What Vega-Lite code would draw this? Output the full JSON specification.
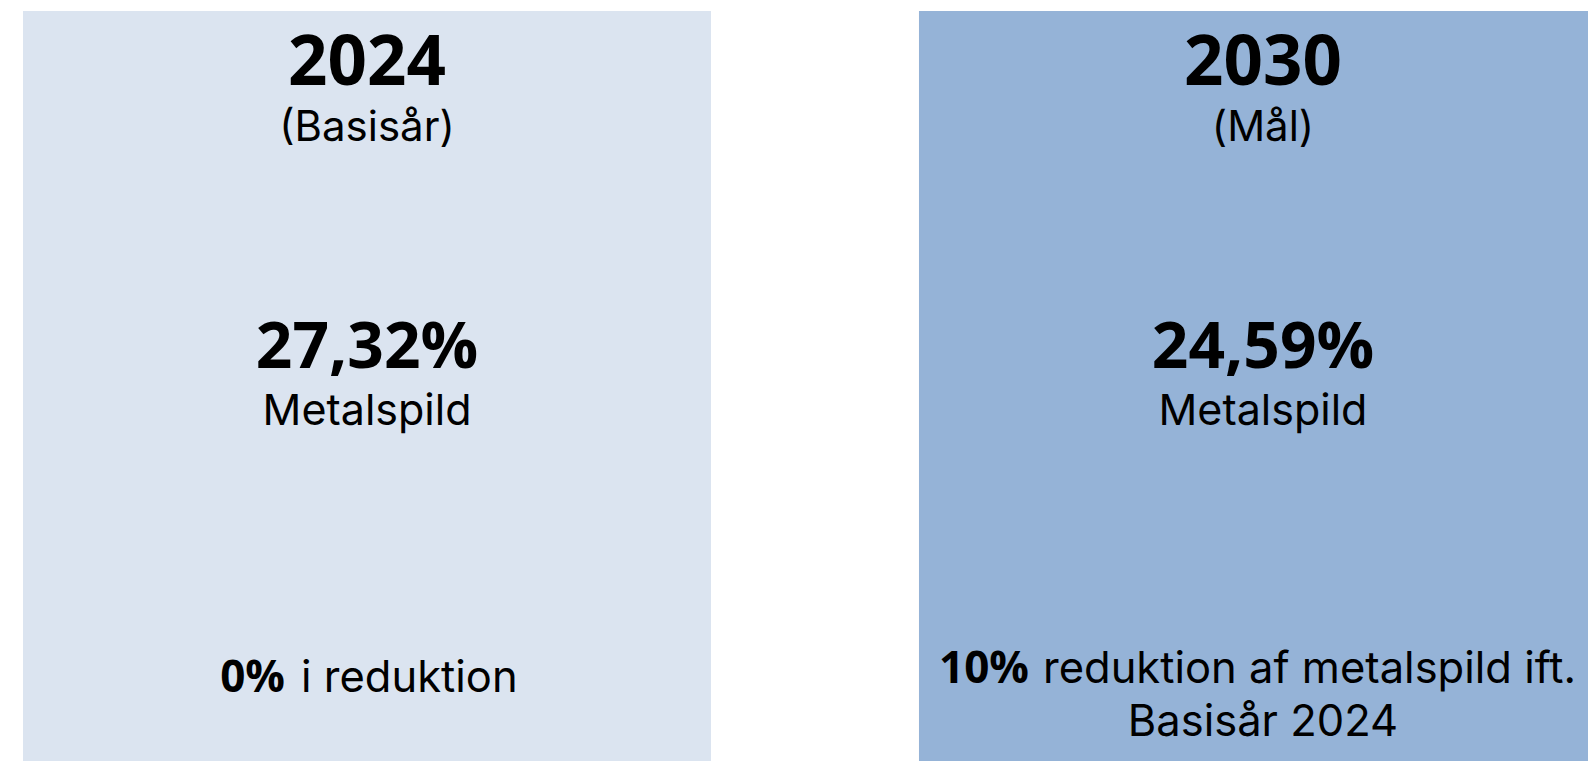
{
  "$schema": "https://vega.github.io/schema/vega-lite/v6.json",
  "autosize": "none",
  "width": 1565,
  "height": 750,
  "padding": {"left": 23, "top": 11, "right": 0, "bottom": 0},
  "background": "#ffffff",
  "config": {"view": {"stroke": null}, "axis": {"disable": true}},
  "data": {
    "values": [
      {"panel": "2024", "role": "year", "text": "2024"},
      {"panel": "2024", "role": "sub", "text": "(Basisår)"},
      {"panel": "2024", "role": "value", "text": "27,32%"},
      {"panel": "2024", "role": "label", "text": "Metalspild"},
      {"panel": "2024", "role": "noteBold", "text": "0%"},
      {"panel": "2024", "role": "note", "text": "i reduktion"},
      {"panel": "2030", "role": "year", "text": "2030"},
      {"panel": "2030", "role": "sub", "text": "(Mål)"},
      {"panel": "2030", "role": "value", "text": "24,59%"},
      {"panel": "2030", "role": "label", "text": "Metalspild"},
      {"panel": "2030", "role": "noteBold", "text": "10%"},
      {"panel": "2030", "role": "note", "text": "reduktion af metalspild ift."},
      {"panel": "2030", "role": "note2", "text": "Basisår 2024"}
    ]
  },
  "encoding": {
    "x": {"field": "panel", "type": "nominal", "axis": null,
          "scale": {"domain": ["2024", "2030"], "range": [0, 1584], "paddingInner": 0.2321, "paddingOuter": 0}}
  },
  "layer": [
    {
      "transform": [{"filter": "datum.role === 'year'"}],
      "mark": {"type": "rect", "clip": true},
      "encoding": {
        "color": {"field": "panel", "type": "nominal", "legend": null,
                  "scale": {"domain": ["2024", "2030"], "range": ["#DBE4F0", "#95B3D7"]}}
      }
    },
    {
      "transform": [{"filter": "datum.role === 'year'"}],
      "mark": {"type": "text", "font": "Open Sans", "fontWeight": "bold", "fontSize": 69, "align": "center", "baseline": "alphabetic", "color": "#000000"},
      "encoding": {
        "y": {"datum": 74, "type": "quantitative", "axis": null, "scale": {"domain": [0, 750], "reverse": true, "nice": false, "zero": false}},
        "text": {"field": "text"}
      }
    },
    {
      "transform": [{"filter": "datum.role === 'sub'"}],
      "mark": {"type": "text", "font": "Inter", "fontSize": 42, "align": "center", "baseline": "alphabetic", "color": "#000000"},
      "encoding": {"y": {"datum": 130, "type": "quantitative"}, "text": {"field": "text"}}
    },
    {
      "transform": [{"filter": "datum.role === 'value'"}],
      "mark": {"type": "text", "font": "Open Sans", "fontWeight": "bold", "fontSize": 64, "align": "center", "baseline": "alphabetic", "color": "#000000"},
      "encoding": {"y": {"datum": 357, "type": "quantitative"}, "text": {"field": "text"}}
    },
    {
      "transform": [{"filter": "datum.role === 'label'"}],
      "mark": {"type": "text", "font": "Inter", "fontSize": 43, "align": "center", "baseline": "alphabetic", "color": "#000000"},
      "encoding": {"y": {"datum": 414, "type": "quantitative"}, "text": {"field": "text"}}
    },
    {
      "transform": [{"filter": "datum.role === 'noteBold' && datum.panel === '2024'"}],
      "mark": {"type": "text", "font": "Open Sans", "fontWeight": "bold", "fontSize": 44, "align": "right", "dx": -82, "baseline": "alphabetic", "color": "#000000"},
      "encoding": {"y": {"datum": 681, "type": "quantitative"}, "text": {"field": "text"}}
    },
    {
      "transform": [{"filter": "datum.role === 'note' && datum.panel === '2024'"}],
      "mark": {"type": "text", "font": "Inter", "fontSize": 43.5, "align": "left", "dx": -66, "baseline": "alphabetic", "color": "#000000"},
      "encoding": {"y": {"datum": 681, "type": "quantitative"}, "text": {"field": "text"}}
    },
    {
      "transform": [{"filter": "datum.role === 'noteBold' && datum.panel === '2030'"}],
      "mark": {"type": "text", "font": "Open Sans", "fontWeight": "bold", "fontSize": 44, "align": "right", "dx": -234, "baseline": "alphabetic", "color": "#000000"},
      "encoding": {"y": {"datum": 672, "type": "quantitative"}, "text": {"field": "text"}}
    },
    {
      "transform": [{"filter": "datum.role === 'note' && datum.panel === '2030'"}],
      "mark": {"type": "text", "font": "Inter", "fontSize": 43.5, "align": "left", "dx": -220, "baseline": "alphabetic", "color": "#000000"},
      "encoding": {"y": {"datum": 672, "type": "quantitative"}, "text": {"field": "text"}}
    },
    {
      "transform": [{"filter": "datum.role === 'note2'"}],
      "mark": {"type": "text", "font": "Inter", "fontSize": 43.5, "align": "center", "baseline": "alphabetic", "color": "#000000"},
      "encoding": {"y": {"datum": 725, "type": "quantitative"}, "text": {"field": "text"}}
    }
  ]
}
